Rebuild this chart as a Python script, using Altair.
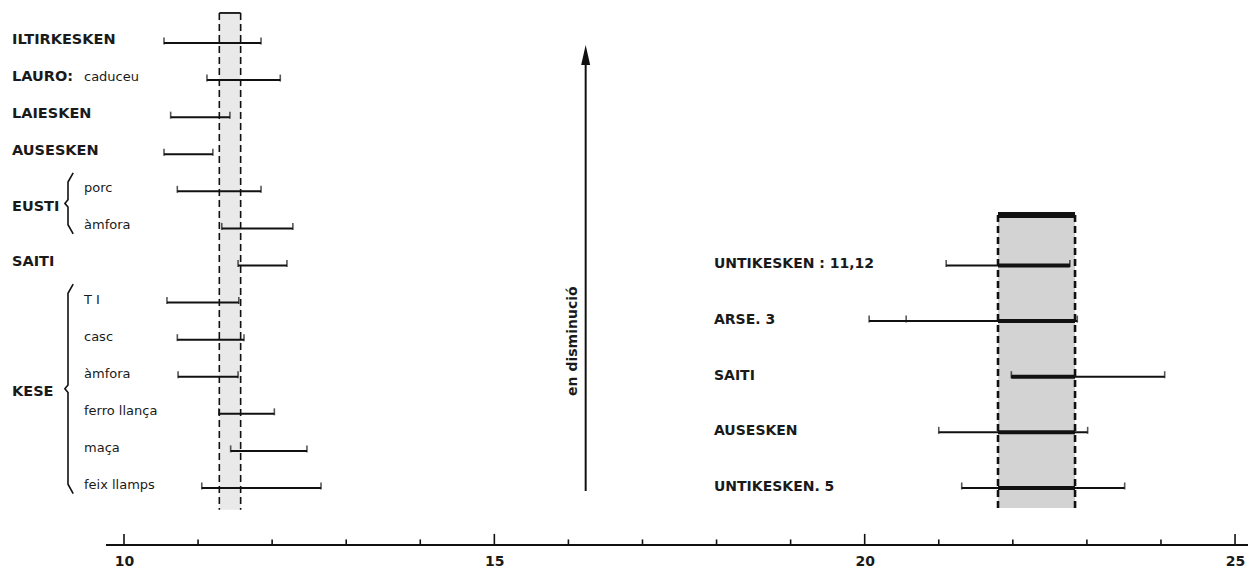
import altair as alt
import pandas as pd

# ---------------- data ----------------
left_main = ["ILTIRKESKEN", "LAURO:", "LAIESKEN", "AUSESKEN",
             "", "", "SAITI", "", "", "", "", "", ""]
left_sub = ["", "caduceu", "", "", "porc", "àmfora", "",
            "T I", "casc", "àmfora", "ferro llança", "maça", "feix llamps"]
left_groups = ["", "", "", "", "EUSTI", "EUSTI", "",
               "KESE", "KESE", "KESE", "KESE", "KESE", "KESE"]
left_lo = [10.54, 11.12, 10.63, 10.54, 10.72, 11.32, 11.54, 10.58, 10.72, 10.73, 11.28, 11.44, 11.05]
left_hi = [11.85, 12.11, 11.43, 11.20, 11.85, 12.28, 12.20, 11.55, 11.62, 11.54, 12.03, 12.47, 12.66]

right_labels = ["UNTIKESKEN : 11,12", "ARSE. 3", "SAITI", "AUSESKEN", "UNTIKESKEN. 5"]
right_rows = [6, 7.5, 9, 10.5, 12]
right_lo = [21.10, 20.06, 21.98, 21.00, 21.31]
right_hi = [22.77, 22.87, 24.05, 23.01, 23.51]
extra_tick_label = ["ARSE. 3"]
extra_tick_value = [20.56]

band_lo = [11.287, 21.80]
band_hi = [11.575, 22.84]
band_top = [-0.81, 4.64]
band_bottom = [12.59, 12.54]

arrow_x = [16.233]
arrow_top = [0.054]
arrow_bottom = [12.08]
arrow_text = ["en disminució"]

axis_ticks = list(range(10, 26))
axis_labels = [10, 15, 20, 25]
axis_start = [9.757]

FONT = "'DejaVu Sans', 'Liberation Sans', sans-serif"
W, H = 1240, 537
X_DOM = [8.434, 25.175]
Y_DOM = [-0.944, 13.538]
xs = alt.Scale(domain=X_DOM, nice=False, zero=False)
ys = alt.Scale(domain=Y_DOM, nice=False, zero=False, reverse=True)
x_axis = alt.Axis(values=axis_labels, ticks=False, domain=False, grid=False,
                  labelFont=FONT, labelFontSize=14, labelFontWeight="bold",
                  labelColor="#1a1a1a", labelPadding=9, title=None,
                  labelFlush=False, labelBound=False)

def X(f="x"):
    return alt.X(f, type="quantitative", scale=xs, axis=x_axis, title=None)

def Y(f="y"):
    return alt.Y(f, type="quantitative", scale=ys, axis=None)

# ---------------- tables ----------------
left = pd.DataFrame({"main": left_main, "sub": left_sub, "group": left_groups,
                     "lo": left_lo, "hi": left_hi,
                     "y": list(range(len(left_main)))})
left["mx"] = 8.488
left["sx"] = 9.46
right = pd.DataFrame({"label": right_labels, "y": right_rows,
                      "lo": right_lo, "hi": right_hi})
right["lx"] = 17.965
intervals = pd.concat([left[["y", "lo", "hi"]], right[["y", "lo", "hi"]]], ignore_index=True)
ends = pd.concat([intervals[["y", "lo"]].rename(columns={"lo": "x"}),
                  intervals[["y", "hi"]].rename(columns={"hi": "x"}),
                  pd.DataFrame({"y": [right_rows[right_labels.index(l)] for l in extra_tick_label],
                                "x": extra_tick_value})], ignore_index=True)

# thick part of the right intervals inside the shaded band
thick = right.copy()
thick["lo"] = thick["lo"].clip(lower=band_lo[1])
thick["hi"] = thick["hi"].clip(upper=band_hi[1])

bands = pd.DataFrame({"lo": band_lo, "hi": band_hi, "top": band_top, "bottom": band_bottom,
                      "fill": ["#e9e9e9", "#d3d3d3"]})
band_edges = pd.DataFrame({"x": band_lo + band_hi, "top": band_top * 2, "bottom": band_bottom * 2,
                           "w": [1.6, 2.6, 1.6, 2.6]})

# group labels and braces
grp_rows = left[left["group"] != ""].groupby("group")["y"].agg(["min", "max", "mean"]).reset_index()
grp_labels = pd.DataFrame({"label": grp_rows["group"], "y": grp_rows["mean"], "x": 8.488})
brace_pts = []
bx, bd = 9.244, 0.07
for _, r in grp_rows.iterrows():
    t, b = r["min"] - 0.5, r["max"] + 0.15
    m = (t + b) / 2
    pts = [(bx + bd, t), (bx, t + 0.25), (bx, m - 0.1), (bx - bd * 0.6, m),
           (bx, m + 0.1), (bx, b - 0.25), (bx + bd, b)]
    for k, (px, py) in enumerate(pts):
        brace_pts.append({"g": r["group"], "k": k, "x": px, "y": py})
braces = pd.DataFrame(brace_pts)

arrow = pd.DataFrame({"x": arrow_x, "top": arrow_top, "bottom": arrow_bottom,
                      "lineTop": [arrow_top[0] + 0.4], "text": arrow_text,
                      "tx": [arrow_x[0] - 0.17], "ty": [8.04]})

ticks = pd.DataFrame({"x": axis_ticks})
ticks["y"] = Y_DOM[1]
ticks["y2"] = [Y_DOM[1] - (0.30 if v % 5 == 0 else 0.15) for v in axis_ticks]
axis_line = pd.DataFrame({"x": axis_start, "x2": [X_DOM[1]], "y": [Y_DOM[1]]})

# ---------------- layers ----------------
band_rects = alt.Chart(bands).mark_rect().encode(
    x=X("lo"), x2="hi", y=Y("top"), y2="bottom",
    color=alt.Color("fill:N", scale=None))
band_lines = alt.Chart(band_edges).mark_rule(color="#111", strokeDash=[7, 4]).encode(
    x=X("x"), y=Y("top"), y2="bottom", strokeWidth=alt.StrokeWidth("w:Q", scale=None))
band_caps = alt.Chart(bands.assign(sw=[1.8, 6])).mark_rule(color="#111").encode(
    x=X("lo"), x2="hi", y=Y("top"), strokeWidth=alt.StrokeWidth("sw:Q", scale=None))

lines = alt.Chart(intervals).mark_rule(color="#111", strokeWidth=2).encode(
    x=X("lo"), x2="hi", y=Y("y"))
thick_lines = alt.Chart(thick).mark_rule(color="#111", strokeWidth=4).encode(
    x=X("lo"), x2="hi", y=Y("y"))
caps = alt.Chart(ends).mark_tick(orient="vertical", color="#111", size=7,
                                 thickness=1.6, yOffset=-2).encode(x=X("x"), y=Y("y"))

top_labels = alt.Chart(left[left["main"] != ""]).mark_text(
    align="left", baseline="middle", dy=-3, font=FONT, fontSize=14.5,
    fontWeight="bold", color="#1a1a1a").encode(x=X("mx"), y=Y("y"), text="main")
sub_labels = alt.Chart(left[left["sub"] != ""]).mark_text(
    align="left", baseline="middle", dy=-3, font=FONT, fontSize=13,
    color="#1a1a1a").encode(x=X("sx"), y=Y("y"), text="sub")
grp_text = alt.Chart(grp_labels).mark_text(
    align="left", baseline="middle", dy=-3, font=FONT, fontSize=14.5,
    fontWeight="bold", color="#1a1a1a").encode(x=X("x"), y=Y("y"), text="label")
brace_lines = alt.Chart(braces).mark_line(color="#111", strokeWidth=1.6).encode(
    x=X("x"), y=Y("y"), detail="g:N", order="k:Q")
right_text = alt.Chart(right).mark_text(
    align="left", baseline="middle", dy=-1, font=FONT, fontSize=14,
    fontWeight="bold", color="#1a1a1a").encode(x=X("lx"), y=Y("y"), text="label")

arrow_line = alt.Chart(arrow).mark_rule(color="#111", strokeWidth=2).encode(
    x=X("x"), y=Y("lineTop"), y2="bottom")
arrow_head = alt.Chart(arrow).mark_point(
    shape="M0,0L0.45,2L-0.45,2Z", size=400, filled=True, opacity=1,
    color="#111").encode(x=X("x"), y=Y("top"))
arrow_label = alt.Chart(arrow).mark_text(
    angle=270, align="center", baseline="middle", font=FONT, fontSize=14,
    fontWeight="bold", color="#1a1a1a").encode(x=X("tx"), y=Y("ty"), text="text")

axis_rule = alt.Chart(axis_line).mark_rule(color="#111", strokeWidth=2).encode(
    x=X("x"), x2="x2", y=Y("y"))
axis_ticks_l = alt.Chart(ticks).mark_rule(color="#111", strokeWidth=1.6).encode(
    x=X("x"), y=Y("y"), y2="y2")

chart = alt.layer(
    band_rects, band_lines, band_caps, lines, thick_lines, caps,
    top_labels, sub_labels, grp_text, brace_lines, right_text,
    arrow_line, arrow_head, arrow_label, axis_rule, axis_ticks_l
).properties(
    width=W, height=H,
    autosize=alt.AutoSizeParams(type="none"),
    padding={"left": 0, "top": 0, "right": 0, "bottom": 40},
    background="white"
).configure_view(strokeWidth=0)

chart.save("out.html", embed_options={"renderer": "svg", "actions": False})
